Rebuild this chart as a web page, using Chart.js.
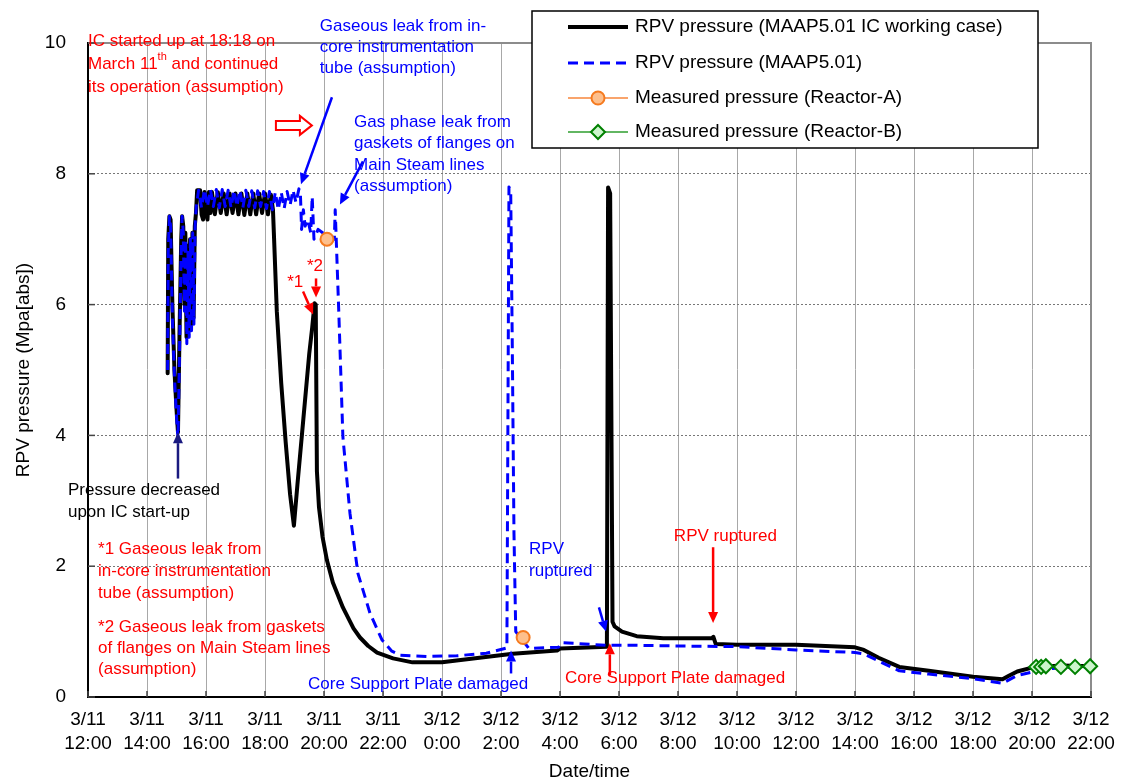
<!DOCTYPE html>
<html>
<head>
<meta charset="utf-8">
<script src="https://cdn.jsdelivr.net/npm/chart.js@4.4.1/dist/chart.umd.min.js"></script>
<style>
html,body{margin:0;padding:0;background:#fff;}
#wrap{width:1121px;height:783px;}
</style>
</head>
<body>
<div id="wrap"><canvas id="rpvChart" width="1121" height="783"></canvas></div>
<script>
// hours counted from 3/11 0:00 (24 = 3/12 0:00)
const icHours = [14.70,14.72,14.76,14.80,14.86,14.93,15.00,15.05,15.10,15.16,15.19,15.23,15.27,15.30,15.34,15.38,15.42,15.46,15.50,15.54,15.58,15.62,15.66,15.70,
  15.80,15.85,15.90,15.95,16.00,16.05,16.10,16.15,16.20,16.30,16.40,16.50,16.60,16.70,16.80,16.90,17.00,17.10,17.20,17.30,17.40,17.50,17.60,17.70,17.80,17.90,18.00,18.10,18.20,
  18.27,18.30,18.40,18.55,18.70,18.85,18.98,19.10,19.30,19.50,19.60,19.68,19.72,19.76,19.83,19.95,20.10,20.30,20.64,21.00,21.22,21.50,21.80,22.34,23.00,24.00,
  26.40,27.90,28.00,29.59,29.63,29.70,29.78,29.85,30.10,30.60,31.50,33.15,33.20,33.28,34.00,36.00,38.00,38.30,38.80,39.50,40.50,42.00,43.00,43.20,43.50,44.00,45.00,46.00];
const icPressure = [4.95,7.00,7.35,7.30,6.00,5.00,4.40,4.05,5.50,7.00,7.35,7.20,6.00,7.10,5.50,6.90,5.60,7.00,5.70,7.10,5.80,7.20,7.40,7.75,
  7.75,7.38,7.30,7.72,7.40,7.30,7.72,7.40,7.72,7.38,7.72,7.40,7.70,7.38,7.70,7.40,7.70,7.38,7.70,7.37,7.70,7.38,7.70,7.38,7.70,7.40,7.70,7.38,7.68,
  7.45,7.10,5.90,4.80,3.90,3.10,2.62,3.25,4.25,5.25,5.65,6.02,6.00,3.45,2.90,2.45,2.09,1.75,1.37,1.05,0.91,0.78,0.68,0.59,0.53,0.53,
  0.66,0.71,0.74,0.77,7.79,7.70,1.15,1.08,1.00,0.93,0.90,0.90,0.92,0.81,0.80,0.80,0.76,0.72,0.60,0.46,0.40,0.31,0.27,0.32,0.39,0.45,0.48,0.47];

const maapHours = [14.70,14.72,14.76,14.80,14.86,14.93,15.00,15.05,15.10,15.16,15.19,15.23,15.27,15.31,15.35,15.39,15.43,15.47,15.51,15.55,15.59,15.63,15.67,
  15.75,15.85,15.95,16.05,16.15,16.25,16.35,16.45,16.55,16.65,16.75,16.85,16.95,17.05,17.15,17.25,17.35,17.45,17.55,17.65,17.75,17.85,17.95,18.05,18.15,18.25,18.35,18.45,18.55,18.65,18.75,18.85,18.95,19.05,19.15,
  19.20,19.24,19.30,19.36,19.45,19.55,19.60,19.66,19.80,20.10,20.35,20.38,20.50,20.64,20.88,21.15,21.56,21.97,22.30,22.58,23.50,24.50,25.50,26.20,
  26.27,26.33,26.38,26.44,26.50,26.95,27.30,27.95,28.05,28.50,29.60,30.60,32.00,34.00,36.00,38.00,38.30,38.80,39.50,40.50,42.00,43.00,43.50,44.00,44.50,45.20,46.00];
const maapPressure = [5.00,6.80,7.35,7.20,5.80,4.90,4.30,3.95,5.20,6.90,7.35,7.10,5.90,7.00,5.40,6.80,5.50,7.00,5.60,7.10,5.70,7.20,7.50,
  7.75,7.48,7.76,7.50,7.76,7.50,7.76,7.48,7.76,7.50,7.75,7.48,7.75,7.50,7.75,7.48,7.75,7.50,7.74,7.48,7.74,7.50,7.73,7.47,7.73,7.45,7.72,7.45,7.72,7.47,7.73,7.52,7.75,7.56,7.77,
  7.70,7.15,7.45,7.20,7.30,7.10,7.65,7.00,7.15,7.05,7.00,7.45,5.90,3.98,2.81,1.89,1.28,0.87,0.70,0.64,0.62,0.63,0.67,0.75,
  7.80,7.70,5.50,2.50,1.00,0.74,0.75,0.76,0.83,0.82,0.79,0.79,0.78,0.77,0.72,0.68,0.66,0.55,0.40,0.35,0.28,0.21,0.33,0.38,0.43,0.45,0.45];

const reactorAHours = [20.10, 26.75];
const reactorAPressure = [7.00, 0.91];

const reactorBHours = [44.14, 44.31, 44.47, 44.98, 45.46, 45.97];
const reactorBPressure = [0.46, 0.46, 0.47, 0.46, 0.46, 0.47];

const seriesLabels = [
  'RPV pressure (MAAP5.01 IC working case)',
  'RPV pressure (MAAP5.01)',
  'Measured pressure (Reactor-A)',
  'Measured pressure (Reactor-B)'
];

const xTicks = {min: 12, max: 46, step: 2};
const yTicks = {min: 0, max: 10, step: 2};

// annotations, anchored in data units (hours, MPa)
const noteTexts = [
  {h: 12.00, v: 10.02, color: '#ff0000', gap: 23, lines: ['IC started up at 18:18 on', 'March 11^th and continued', 'its operation (assumption)']},
  {h: 19.86, v: 10.26, color: '#0000ff', gap: 21, lines: ['Gaseous leak from in-', 'core instrumentation', 'tube (assumption)']},
  {h: 21.02, v: 8.79, color: '#0000ff', gap: 21.5, lines: ['Gas phase leak from', 'gaskets of flanges on', 'Main Steam lines', '(assumption)']},
  {h: 19.42, v: 6.58, color: '#ff0000', gap: 20, lines: ['*2']},
  {h: 18.75, v: 6.34, color: '#ff0000', gap: 20, lines: ['*1']},
  {h: 11.32, v: 3.16, color: '#000000', gap: 22, lines: ['Pressure decreased', 'upon IC start-up']},
  {h: 12.34, v: 2.26, color: '#ff0000', gap: 22, lines: ['*1 Gaseous leak from', 'in-core instrumentation', 'tube (assumption)']},
  {h: 12.34, v: 1.07, color: '#ff0000', gap: 21, lines: ['*2 Gaseous leak from gaskets', 'of flanges on Main Steam lines', '(assumption)']},
  {h: 19.46, v: 0.19, color: '#0000ff', gap: 21, lines: ['Core Support Plate damaged']},
  {h: 26.95, v: 2.26, color: '#0000ff', gap: 22, lines: ['RPV', 'ruptured']},
  {h: 28.17, v: 0.28, color: '#ff0000', gap: 21, lines: ['Core Support Plate damaged']},
  {h: 31.86, v: 2.45, color: '#ff0000', gap: 21, lines: ['RPV ruptured']}
];
const noteArrows = [
  {from: [20.27, 9.17], to: [19.22, 7.84], color: '#0000ff'},
  {from: [21.32, 8.19], to: [20.54, 7.53], color: '#0000ff'},
  {from: [19.73, 6.40], to: [19.73, 6.11], color: '#ff0000'},
  {from: [19.29, 6.20], to: [19.63, 5.85], color: '#ff0000'},
  {from: [15.05, 3.34], to: [15.05, 4.05], color: '#1a1a80'},
  {from: [26.34, 0.36], to: [26.34, 0.71], color: '#0000ff'},
  {from: [29.32, 1.37], to: [29.56, 1.00], color: '#0000ff'},
  {from: [29.69, 0.33], to: [29.69, 0.82], color: '#ff0000'},
  {from: [33.19, 2.29], to: [33.19, 1.13], color: '#ff0000'}
];
const blockArrow = {from: [18.37, 8.74], to: [19.59, 8.74], color: '#ff0000'};

const FONT = "'Liberation Sans', Arial, sans-serif";
Chart.defaults.font.family = FONT;
Chart.defaults.color = '#000';

function pts(xs, ys) { return xs.map((x, i) => ({x: x, y: ys[i]})); }

function drawArrow(ctx, x1, y1, x2, y2, color) {
  const a = Math.atan2(y2 - y1, x2 - x1), hl = 11, hw = 5;
  ctx.strokeStyle = color; ctx.fillStyle = color; ctx.lineWidth = 2.5;
  ctx.beginPath(); ctx.moveTo(x1, y1);
  ctx.lineTo(x2 - Math.cos(a) * hl, y2 - Math.sin(a) * hl); ctx.stroke();
  ctx.beginPath(); ctx.moveTo(x2, y2);
  ctx.lineTo(x2 - Math.cos(a) * hl - Math.sin(a) * hw, y2 - Math.sin(a) * hl + Math.cos(a) * hw);
  ctx.lineTo(x2 - Math.cos(a) * hl + Math.sin(a) * hw, y2 - Math.sin(a) * hl - Math.cos(a) * hw);
  ctx.closePath(); ctx.fill();
}

function drawRichLine(ctx, text, x, y) {
  const parts = text.split(/\^(\w+)/);
  let cx = x;
  parts.forEach((p, i) => {
    if (i % 2) {
      ctx.font = '11px ' + FONT;
      ctx.fillText(p, cx, y - 8);
    } else {
      ctx.font = '17px ' + FONT;
      ctx.fillText(p, cx, y);
    }
    cx += ctx.measureText(p).width;
  });
}

const framePlugin = {
  id: 'frame',
  beforeDatasetsDraw(chart) {
    const {ctx, chartArea: a, scales} = chart;
    ctx.save();
    ctx.strokeStyle = '#8c8c8c'; ctx.lineWidth = 2;
    ctx.beginPath(); ctx.moveTo(a.left, a.top); ctx.lineTo(a.right, a.top); ctx.lineTo(a.right, a.bottom); ctx.stroke();
    // inward tick marks
    ctx.strokeStyle = '#444'; ctx.lineWidth = 1.5;
    scales.x.ticks.forEach(t => {
      const px = scales.x.getPixelForValue(t.value);
      ctx.beginPath(); ctx.moveTo(px, a.bottom); ctx.lineTo(px, a.bottom - 6); ctx.stroke();
    });
    scales.y.ticks.forEach(t => {
      const py = scales.y.getPixelForValue(t.value);
      ctx.beginPath(); ctx.moveTo(a.left, py); ctx.lineTo(a.left + 7, py); ctx.stroke();
    });
    ctx.restore();
  },
  afterDraw(chart) {
    const {ctx, scales} = chart;
    const X = h => scales.x.getPixelForValue(h), Y = v => scales.y.getPixelForValue(v);
    ctx.save();
    ctx.textBaseline = 'middle'; ctx.textAlign = 'left';
    noteTexts.forEach(n => {
      ctx.fillStyle = n.color;
      n.lines.forEach((ln, i) => drawRichLine(ctx, ln, X(n.h), Y(n.v) + i * n.gap));
    });
    noteArrows.forEach(ar => drawArrow(ctx, X(ar.from[0]), Y(ar.from[1]), X(ar.to[0]), Y(ar.to[1]), ar.color));
    // hollow block arrow
    const x0 = X(blockArrow.from[0]), x1 = X(blockArrow.to[0]), yc = Y(blockArrow.from[1]);
    ctx.beginPath();
    ctx.moveTo(x0, yc - 4.5); ctx.lineTo(x1 - 12, yc - 4.5); ctx.lineTo(x1 - 12, yc - 9.5); ctx.lineTo(x1, yc);
    ctx.lineTo(x1 - 12, yc + 9.5); ctx.lineTo(x1 - 12, yc + 4.5); ctx.lineTo(x0, yc + 4.5); ctx.closePath();
    ctx.fillStyle = '#fff'; ctx.fill();
    ctx.strokeStyle = blockArrow.color; ctx.lineWidth = 2; ctx.stroke();

    // legend box
    const box = {x: 532, y: 11, w: 506, h: 137};
    ctx.fillStyle = '#fff'; ctx.fillRect(box.x, box.y, box.w, box.h);
    ctx.strokeStyle = '#000'; ctx.lineWidth = 1.5; ctx.strokeRect(box.x, box.y, box.w, box.h);
    const rowY = [27, 63, 98, 132];
    chart.data.datasets.forEach((ds, i) => {
      const y = rowY[i], lx0 = 568, lx1 = 628;
      ctx.save();
      ctx.strokeStyle = ds.borderColor;
      ctx.lineWidth = ds.legendWidth || ds.borderWidth;
      ctx.setLineDash(ds.borderDash || []);
      ctx.beginPath(); ctx.moveTo(lx0, y); ctx.lineTo(lx1, y); ctx.stroke();
      ctx.restore();
      if (ds.showLine === false) {
        ctx.save();
        ctx.fillStyle = ds.pointBackgroundColor; ctx.strokeStyle = ds.pointBorderColor; ctx.lineWidth = ds.pointBorderWidth;
        Chart.helpers.drawPoint(ctx, {pointStyle: ds.pointStyle, radius: ds.pointRadius, rotation: 0, borderWidth: ds.pointBorderWidth}, 598, y);
        ctx.restore();
      }
      ctx.fillStyle = '#000'; ctx.font = '19px ' + FONT; ctx.textBaseline = 'middle';
      ctx.fillText(ds.label, 635, y);
    });
    ctx.restore();
  }
};

new Chart(document.getElementById('rpvChart'), {
  type: 'line',
  data: {
    datasets: [
      {label: seriesLabels[0], data: pts(icHours, icPressure), borderColor: '#000', borderWidth: 4,
       borderJoinStyle: 'round', borderCapStyle: 'round', pointRadius: 0, tension: 0, order: 4},
      {label: seriesLabels[1], data: pts(maapHours, maapPressure), borderColor: '#0000ff', borderWidth: 3,
       borderJoinStyle: 'round', borderDash: [10, 6], pointRadius: 0, tension: 0, order: 3},
      {label: seriesLabels[2], data: pts(reactorAHours, reactorAPressure), showLine: false, borderColor: '#f9a46c',
       legendWidth: 2, pointStyle: 'circle', pointRadius: 6.5, pointBackgroundColor: '#fdbf8c',
       pointBorderColor: '#f57a1f', pointBorderWidth: 2, order: 2, clip: false},
      {label: seriesLabels[3], data: pts(reactorBHours, reactorBPressure), showLine: false, borderColor: '#2e9e2e',
       legendWidth: 1.5, pointStyle: 'rectRot', pointRadius: 7, pointBackgroundColor: '#ccf5cc',
       pointBorderColor: '#008000', pointBorderWidth: 2, order: 1, clip: false}
    ]
  },
  options: {
    responsive: false,
    animation: false,
    layout: {padding: {top: 43, right: 30, left: 0, bottom: 0}},
    plugins: {legend: {display: false}, tooltip: {enabled: false}},
    scales: {
      x: {
        type: 'linear', min: xTicks.min, max: xTicks.max,
        afterFit: s => { s.height = 86; s.paddingRight = 20; s.paddingLeft = 0; },
        ticks: {stepSize: xTicks.step, autoSkip: false, maxRotation: 0, padding: 10,
          font: {size: 19, lineHeight: 1.3}, color: '#000',
          callback: v => [v < 24 ? '3/11' : '3/12', (v % 24) + ':00']},
        grid: {drawTicks: false, lineWidth: 1,
          color: c => (c.tick && (c.tick.value === xTicks.min || c.tick.value === xTicks.max)) ? 'transparent' : '#a8a8a8'},
        border: {color: '#000', width: 2},
        title: {display: true, text: 'Date/time', font: {size: 19}, color: '#000', padding: {top: 2, bottom: 0}}
      },
      y: {
        min: yTicks.min, max: yTicks.max,
        afterFit: s => { s.width = 88; },
        ticks: {stepSize: yTicks.step, padding: 22, font: {size: 19}, color: '#000'},
        grid: {drawTicks: false, lineWidth: 1,
          color: c => (c.tick && (c.tick.value === yTicks.min || c.tick.value === yTicks.max)) ? 'transparent' : '#777'},
        border: {color: '#000', width: 2, dash: [2, 2]},
        title: {display: true, text: 'RPV pressure (Mpa[abs])', font: {size: 19}, color: '#000', padding: {top: 12, bottom: 0}}
      }
    }
  },
  plugins: [framePlugin]
});
</script>
</body>
</html>
